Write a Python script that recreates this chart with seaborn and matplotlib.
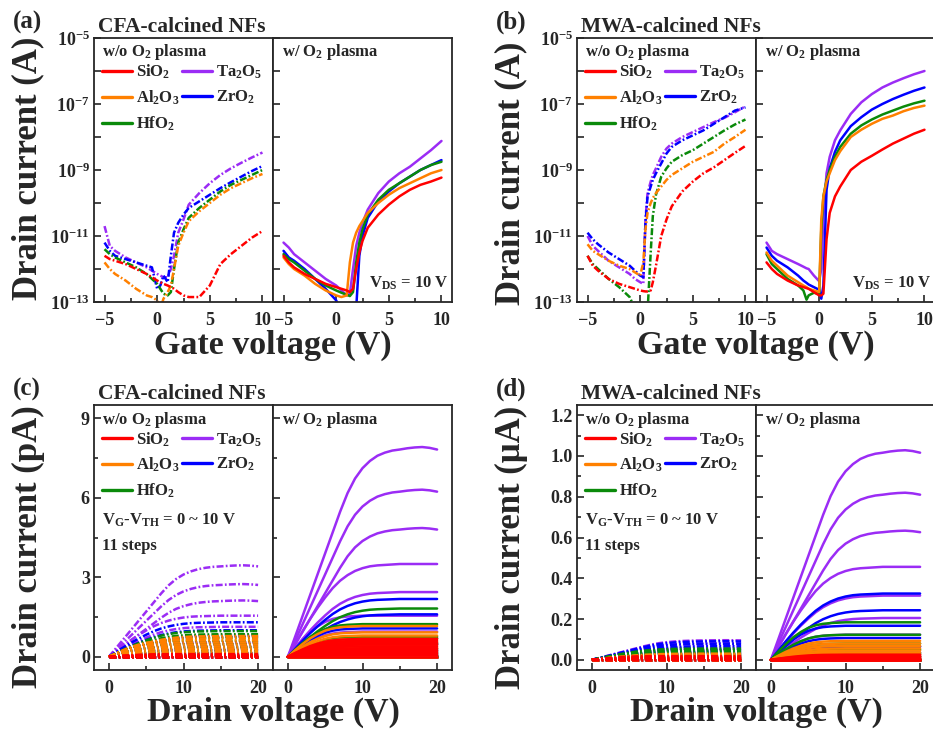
import numpy as np
import pandas as pd
import matplotlib
matplotlib.use('Agg')
import matplotlib.pyplot as plt
import seaborn as sns
from matplotlib.lines import Line2D
from matplotlib.ticker import (FixedLocator, FuncFormatter, MultipleLocator, FormatStrFormatter,
                               NullFormatter)

# materiali, legenda i boje
MATERIALS = ['SiO2', 'Al2O3', 'HfO2', 'Ta2O5', 'ZrO2']
LABELS = ['SiO$_2$', 'Al$_2$O$_3$', 'HfO$_2$', 'Ta$_2$O$_5$', 'ZrO$_2$']
COLORS = ['#ff0000', '#ff8000', '#0a8a0a', '#9b2cf5', '#0000ff']
DRAW_ORDER = ['Ta2O5', 'ZrO2', 'HfO2', 'Al2O3', 'SiO2']

# ---- prijenosne karakteristike, log10(Id / A) ----
# (a) CFA, bez O2 plazme
a_wo_vg = [-5, -4.5, -4, -3, -2, -1, -0.5, 0, 0.3, 0.6, 1, 1.3, 1.6, 2, 2.5, 3, 4, 5, 6, 7, 8, 9, 10]
a_wo_si = [-11.6, -11.7, -11.75, -11.85, -12.0, -12.15, -12.25, -12.35, -12.4, -12.45, -12.5, -12.55,
           -12.6, -12.7, -12.8, -12.85, -12.85, -12.5, -11.85, -11.55, -11.3, -11.05, -10.85]
a_wo_al = [-11.8, -12.0, -12.15, -12.35, -12.6, -12.8, -12.85, -12.95, -13.2, -12.9, -12.7, -12.5,
           -12.0, -11.3, -10.9, -10.55, -10.25, -10.0, -9.75, -9.55, -9.4, -9.25, -9.12]
a_wo_hf = [-11.4, -11.55, -11.65, -11.8, -11.95, -12.15, -12.3, -12.45, -12.6, -12.75, -12.8, -12.7,
           -12.0, -11.2, -10.8, -10.45, -10.15, -9.9, -9.65, -9.45, -9.3, -9.15, -9.0]
a_wo_ta = [-10.7, -11.3, -11.45, -11.65, -11.8, -11.95, -12.05, -12.15, -12.2, -12.25, -12.25, -12.0,
           -11.6, -10.9, -10.5, -10.05, -9.7, -9.4, -9.15, -8.95, -8.78, -8.62, -8.47]
a_wo_zr = [-11.2, -11.45, -11.6, -11.7, -11.8, -11.9, -11.95, -12.6, -12.5, -12.2, -12.4, -11.6,
           -10.9, -10.6, -10.35, -10.15, -9.95, -9.75, -9.55, -9.37, -9.2, -9.03, -8.88]

# (a) CFA, s O2 plazmom
a_w_vg = [-5, -4.5, -4, -3, -2, -1, 0, 0.5, 1, 1.3, 1.6, 1.9, 2.2, 2.5, 3, 4, 5, 6, 7, 8, 9, 10]
a_w_si = [-11.6, -11.8, -11.95, -12.15, -12.3, -12.45, -12.55, -12.6, -12.65, -12.7, -12.6, -12.0,
          -11.5, -11.15, -10.75, -10.35, -10.05, -9.8, -9.6, -9.45, -9.35, -9.23]
a_w_al = [-11.65, -11.85, -12.0, -12.2, -12.45, -12.65, -12.8, -12.85, -12.8, -11.8, -11.2, -10.9,
          -10.7, -10.55, -10.3, -10.0, -9.75, -9.55, -9.4, -9.25, -9.1, -9.0]
a_w_hf = [-11.55, -11.7, -11.8, -12.05, -12.3, -12.5, -12.65, -12.72, -12.78, -12.82, -12.7, -11.8,
          -11.2, -10.8, -10.35, -9.9, -9.6, -9.4, -9.2, -9.0, -8.85, -8.75]
a_w_ta = [-11.2, -11.35, -11.55, -11.8, -12.05, -12.3, -12.5, -12.65, -12.8, -12.75, -12.0, -11.3,
          -10.9, -10.6, -10.2, -9.7, -9.35, -9.1, -8.9, -8.65, -8.4, -8.12]
a_w_zr = [-11.45, -11.65, -11.75, -12.0, -12.3, -12.6, -12.95, -13.3, -13.5, -13.5, -13.5, -13.2,
          -11.6, -11.0, -10.45, -9.95, -9.65, -9.4, -9.2, -9.0, -8.85, -8.7]

# (b) MWA, bez O2 plazme
b_wo_vg = [-5, -4.5, -4, -3, -2, -1, -0.5, 0, 0.3, 0.5, 0.7, 1, 1.2, 1.5, 2, 2.5, 3, 4, 5, 6, 7, 8, 9, 10]
b_wo_si = [-11.6, -11.9, -12.05, -12.3, -12.45, -12.55, -12.6, -12.65, -12.67, -12.68, -12.68, -12.65,
           -12.4, -11.9, -11.0, -10.5, -10.1, -9.65, -9.35, -9.1, -8.92, -8.7, -8.48, -8.27]
b_wo_al = [-11.25, -11.45, -11.55, -11.75, -11.9, -12.0, -12.1, -12.2, -11.8, -10.8, -10.3, -10.0,
           -9.85, -9.7, -9.5, -9.3, -9.15, -8.95, -8.75, -8.6, -8.45, -8.2, -8.0, -7.78]
b_wo_hf = [-11.6, -11.85, -12.0, -12.3, -12.55, -12.85, -13.2, -13.5, -13.5, -13.5, -13.3, -11.5,
           -10.4, -9.75, -9.2, -8.95, -8.75, -8.55, -8.4, -8.2, -8.0, -7.8, -7.62, -7.47]
b_wo_ta = [-11.0, -11.3, -11.45, -11.75, -11.95, -12.15, -12.3, -12.4, -12.45, -10.5, -9.7, -9.35,
           -9.15, -8.95, -8.6, -8.35, -8.2, -8.0, -7.85, -7.7, -7.55, -7.42, -7.25, -7.07]
b_wo_zr = [-10.9, -11.1, -11.25, -11.5, -11.7, -11.9, -12.05, -12.2, -12.25, -10.6, -9.8, -9.5,
           -9.3, -9.1, -8.8, -8.5, -8.3, -8.1, -7.95, -7.8, -7.6, -7.4, -7.2, -7.1]

# (b) MWA, s O2 plazmom
b_w_vg = [-5, -4.5, -4, -3, -2, -1.5, -1.2, -1, -0.5, 0, 0.2, 0.4, 0.7, 1, 1.5, 2, 3, 4, 5, 6, 7, 8, 9, 10]
b_w_si = [-11.8, -12.0, -12.15, -12.35, -12.5, -12.55, -12.58, -12.6, -12.7, -12.8, -12.8, -12.75,
          -11.1, -10.3, -9.8, -9.5, -9.0, -8.75, -8.57, -8.38, -8.2, -8.05, -7.9, -7.78]
b_w_al = [-11.5, -11.75, -11.9, -12.2, -12.4, -12.5, -12.55, -12.6, -12.65, -12.7, -10.5, -9.8,
          -9.35, -9.1, -8.7, -8.43, -8.0, -7.78, -7.6, -7.45, -7.35, -7.22, -7.12, -7.05]
b_w_hf = [-11.55, -11.85, -12.0, -12.3, -12.5, -12.65, -12.93, -12.8, -12.72, -12.75, -10.8, -9.8,
          -9.3, -9.0, -8.6, -8.3, -7.9, -7.65, -7.47, -7.32, -7.2, -7.08, -6.98, -6.9]
b_w_ta = [-11.2, -11.45, -11.55, -11.7, -11.85, -11.93, -11.98, -12.0, -12.2, -12.37, -12.0, -10.4,
          -9.1, -8.6, -8.1, -7.8, -7.3, -6.95, -6.7, -6.5, -6.35, -6.22, -6.1, -6.0]
b_w_zr = [-11.35, -11.6, -11.75, -11.95, -12.2, -12.35, -12.42, -12.47, -12.55, -12.63, -12.9, -12.5,
          -9.6, -8.95, -8.45, -8.1, -7.67, -7.4, -7.17, -7.0, -6.85, -6.72, -6.6, -6.5]

# ---- izlazne karakteristike ----
vd = list(range(21))
# oblik krivulje (Id / Id_sat) ocitan sa slike
shape_hi = [0, .10, .20, .30, .40, .50, .60, .70, .79, .86, .91, .945, .97, .985, .995, 1.0,
            1.006, 1.01, 1.012, 1.008, 1.0]
shape_mid = [0, .14, .28, .41, .53, .64, .74, .82, .88, .925, .955, .975, .985, .99, .995, 1.0,
             1.0, 1.0, 1.0, 1.0, 1.0]
shape_lo = [0, .22, .42, .60, .74, .85, .92, .96, .98, .99, 1.0, 1.0, 1.0, 1.0, 1.0, 1.0,
            1.0, 1.0, 1.0, 1.0, 1.0]

# struja zasicenja po koraku VG-VTH (10 V ... 0 V)
# (c) CFA, pA
c_wo_si = [0.10, 0.08, 0.06, 0.05, 0.04, 0.03, 0.02, 0.01, 0.005, 0.0, 0.0]
c_wo_al = [0.78, 0.70, 0.62, 0.54, 0.46, 0.38, 0.30, 0.22, 0.14, 0.07, 0.02]
c_wo_hf = [0.97, 0.85, 0.72, 0.60, 0.47, 0.35, 0.24, 0.14, 0.06, 0.02, 0.0]
c_wo_ta = [3.41, 2.71, 2.10, 1.55, 1.13, 0.80, 0.50, 0.28, 0.12, 0.03, 0.0]
c_wo_zr = [1.30, 1.00, 0.75, 0.55, 0.38, 0.24, 0.13, 0.06, 0.02, 0.005, 0.0]

c_w_si = [0.67, 0.60, 0.53, 0.46, 0.39, 0.32, 0.25, 0.18, 0.11, 0.05, 0.0]
c_w_al = [1.16, 0.92, 0.80, 0.68, 0.56, 0.45, 0.34, 0.24, 0.14, 0.06, 0.0]
c_w_hf = [1.82, 1.23, 0.75, 0.50, 0.30, 0.17, 0.08, 0.03, 0.01, 0.0, 0.0]
c_w_ta = [7.82, 6.23, 4.80, 3.50, 2.44, 1.55, 0.95, 0.50, 0.20, 0.05, 0.0]
c_w_zr = [2.18, 1.60, 1.07, 0.70, 0.45, 0.25, 0.12, 0.05, 0.02, 0.005, 0.0]

# (d) MWA, uA
d_wo_si = [0.018, 0.015, 0.012, 0.010, 0.008, 0.006, 0.004, 0.003, 0.002, 0.001, 0.0]
d_wo_al = [0.030, 0.026, 0.022, 0.018, 0.014, 0.011, 0.008, 0.005, 0.003, 0.001, 0.0]
d_wo_hf = [0.055, 0.048, 0.040, 0.033, 0.026, 0.020, 0.014, 0.009, 0.005, 0.002, 0.0]
d_wo_ta = [0.095, 0.080, 0.065, 0.050, 0.038, 0.027, 0.018, 0.010, 0.005, 0.002, 0.0]
d_wo_zr = [0.090, 0.078, 0.066, 0.055, 0.044, 0.034, 0.025, 0.016, 0.009, 0.004, 0.0]

d_w_si = [0.025, 0.020, 0.016, 0.012, 0.009, 0.006, 0.004, 0.002, 0.001, 0.0, 0.0]
d_w_al = [0.093, 0.080, 0.068, 0.056, 0.045, 0.035, 0.025, 0.016, 0.008, 0.003, 0.0]
d_w_hf = [0.184, 0.123, 0.080, 0.050, 0.030, 0.015, 0.005, 0.0, 0.0, 0.0, 0.0]
d_w_ta = [1.016, 0.810, 0.626, 0.456, 0.315, 0.205, 0.123, 0.065, 0.025, 0.005, 0.0]
d_w_zr = [0.325, 0.243, 0.167, 0.107, 0.065, 0.035, 0.015, 0.005, 0.0, 0.0, 0.0]

# ---- stil ----
sns.set_style('ticks')
plt.rcParams['font.family'] = ['Liberation Serif', 'DejaVu Serif']
plt.rcParams['font.weight'] = 'bold'
plt.rcParams['mathtext.fontset'] = 'custom'
plt.rcParams['mathtext.rm'] = 'Liberation Serif:bold'
plt.rcParams['mathtext.it'] = 'Liberation Serif:italic:bold'
plt.rcParams['mathtext.bf'] = 'Liberation Serif:bold'
plt.rcParams['mathtext.default'] = 'rm'

PALETTE = dict(zip(MATERIALS, COLORS))
DASHDOT = (0, (2.8, 0.9, 0.7, 0.9))
W_PX, H_PX = 933, 731

fig = plt.figure(figsize=(W_PX / 100, H_PX / 100), dpi=100)


def add_ax(left, top, width, height, sharey=None):
    return fig.add_axes([left / W_PX, 1 - (top + height) / H_PX, width / W_PX, height / H_PX],
                        sharey=sharey)


def style_ax(ax, labels_left):
    ax.tick_params(which='both', direction='in', top=False, right=False, width=1.2, labelsize=13)
    ax.tick_params(which='major', length=5)
    ax.tick_params(which='minor', length=3)
    ax.tick_params(axis='x', which='both', pad=7)
    ax.tick_params(axis='y', which='both', pad=3, labelleft=labels_left)
    for sp in ax.spines.values():
        sp.set_linewidth(1.3)
    ax.set_xlabel('')
    ax.set_ylabel('')


def transfer(ax, vg, curves, dashed):
    rows = []
    for mat in DRAW_ORDER:
        for v, li in zip(vg, curves[mat]):
            rows.append((mat, v, 10.0 ** li))
    df = pd.DataFrame(rows, columns=['material', 'Vg', 'Id'])
    ax.set_yscale('log')
    sns.lineplot(data=df, x='Vg', y='Id', hue='material', hue_order=DRAW_ORDER, palette=PALETTE,
                 estimator=None, legend=False, lw=1.8, linestyle=DASHDOT if dashed else '-', ax=ax)
    ax.set_xlim(-6, 11)
    ax.set_ylim(1e-13, 1e-5)
    ax.xaxis.set_major_locator(MultipleLocator(5))
    ax.xaxis.set_minor_locator(MultipleLocator(2.5))
    ax.yaxis.set_major_locator(FixedLocator([1e-13, 1e-11, 1e-9, 1e-7, 1e-5]))
    ax.yaxis.set_minor_locator(FixedLocator([1e-12, 1e-10, 1e-8, 1e-6]))
    ax.yaxis.set_major_formatter(FuncFormatter(lambda v, p: r'$10^{%d}$' % round(np.log10(v))))
    ax.yaxis.set_minor_formatter(NullFormatter())


def pick_shape(level, top):
    if level >= 0.6 * top:
        return shape_hi
    if level >= 0.2 * top:
        return shape_mid
    return shape_lo


def output(ax, levels, dashed, ylim, ymaj, ymin, fmt):
    top = max(max(v) for v in levels.values())
    rows = []
    for mat in DRAW_ORDER:
        for step, isat in enumerate(levels[mat]):
            shape = pick_shape(isat, top)
            for x, s in zip(vd, shape):
                rows.append((mat, step, x, isat * s))
    df = pd.DataFrame(rows, columns=['material', 'step', 'Vd', 'Id'])
    sns.lineplot(data=df, x='Vd', y='Id', hue='material', hue_order=DRAW_ORDER, palette=PALETTE,
                 units='step', estimator=None, legend=False, lw=1.8,
                 linestyle=DASHDOT if dashed else '-', ax=ax)
    ax.set_xlim(-2, 22)
    ax.set_ylim(*ylim)
    ax.xaxis.set_major_locator(MultipleLocator(10))
    ax.xaxis.set_minor_locator(MultipleLocator(5))
    ax.yaxis.set_major_locator(MultipleLocator(ymaj))
    ax.yaxis.set_minor_locator(MultipleLocator(ymin))
    ax.yaxis.set_major_formatter(FormatStrFormatter(fmt))
    ax.yaxis.set_minor_formatter(NullFormatter())


def add_legend(ax):
    handles = [Line2D([], [], color=c, lw=2.4) for c in COLORS]
    ax.legend(handles, LABELS, ncol=2, loc='upper left', bbox_to_anchor=(0.045, 0.905),
              frameon=False, fontsize=12, handlelength=1.8, handletextpad=0.25,
              columnspacing=0.15, labelspacing=0.45, borderpad=0, borderaxespad=0)


def frame_texts(ax_l, ax_r):
    ax_l.text(0.045, 0.93, 'w/o O$_2$ plasma', transform=ax_l.transAxes, fontsize=12, va='baseline')
    ax_r.text(0.05, 0.93, 'w/ O$_2$ plasma', transform=ax_r.transAxes, fontsize=12, va='baseline')


# raspored panela (px)
PANELS = [
    ('(a)', 'CFA-calcined NFs', 94, 38, 264),
    ('(b)', 'MWA-calcined NFs', 577, 38, 264),
    ('(c)', 'CFA-calcined NFs', 94, 405, 265),
    ('(d)', 'MWA-calcined NFs', 577, 405, 265),
]
AX_W = 179

axes = []
for letter, title, x0, top, h in PANELS:
    ax_l = add_ax(x0, top, AX_W, h)
    ax_r = add_ax(x0 + AX_W, top, AX_W, h, sharey=ax_l)
    axes.append((ax_l, ax_r))
    fig.text((x0 - 81) / W_PX, 1 - (top - 9) / H_PX, letter, fontsize=18, va='baseline')
    fig.text((x0 + 4) / W_PX, 1 - (top - 6) / H_PX, title, fontsize=15.5, va='baseline')

# (a)
ax_l, ax_r = axes[0]
transfer(ax_l, a_wo_vg, dict(SiO2=a_wo_si, Al2O3=a_wo_al, HfO2=a_wo_hf, Ta2O5=a_wo_ta, ZrO2=a_wo_zr), True)
transfer(ax_r, a_w_vg, dict(SiO2=a_w_si, Al2O3=a_w_al, HfO2=a_w_hf, Ta2O5=a_w_ta, ZrO2=a_w_zr), False)

# (b)
ax_l, ax_r = axes[1]
transfer(ax_l, b_wo_vg, dict(SiO2=b_wo_si, Al2O3=b_wo_al, HfO2=b_wo_hf, Ta2O5=b_wo_ta, ZrO2=b_wo_zr), True)
transfer(ax_r, b_w_vg, dict(SiO2=b_w_si, Al2O3=b_w_al, HfO2=b_w_hf, Ta2O5=b_w_ta, ZrO2=b_w_zr), False)

# (c)
ax_l, ax_r = axes[2]
output(ax_l, dict(SiO2=c_wo_si, Al2O3=c_wo_al, HfO2=c_wo_hf, Ta2O5=c_wo_ta, ZrO2=c_wo_zr), True,
       (-0.5, 9.5), 3, 1.5, '%d')
output(ax_r, dict(SiO2=c_w_si, Al2O3=c_w_al, HfO2=c_w_hf, Ta2O5=c_w_ta, ZrO2=c_w_zr), False,
       (-0.5, 9.5), 3, 1.5, '%d')

# (d)
ax_l, ax_r = axes[3]
output(ax_l, dict(SiO2=d_wo_si, Al2O3=d_wo_al, HfO2=d_wo_hf, Ta2O5=d_wo_ta, ZrO2=d_wo_zr), True,
       (-0.05, 1.25), 0.2, 0.1, '%.1f')
output(ax_r, dict(SiO2=d_w_si, Al2O3=d_w_al, HfO2=d_w_hf, Ta2O5=d_w_ta, ZrO2=d_w_zr), False,
       (-0.05, 1.25), 0.2, 0.1, '%.1f')

for i, (ax_l, ax_r) in enumerate(axes):
    style_ax(ax_l, True)
    style_ax(ax_r, False)
    if i < 2:
        ax_l.tick_params(axis='y', which='minor', length=5)
        ax_r.tick_params(axis='y', which='minor', length=5)
    add_legend(ax_l)
    frame_texts(ax_l, ax_r)
    if i < 2:
        ax_r.text(0.985, 0.053, 'V$_{DS}$ = 10 V', transform=ax_r.transAxes, fontsize=12,
                  ha='right', va='baseline')
    else:
        ax_l.text(0.045, 0.547, 'V$_G$-V$_{TH}$ = 0 ~ 10 V', transform=ax_l.transAxes, fontsize=12,
                  va='baseline')
        ax_l.text(0.045, 0.453, '11 steps', transform=ax_l.transAxes, fontsize=12, va='baseline')

# osi - natpisi
YLAB = ['Drain current (A)', 'Drain current (A)', 'Drain current (pA)', 'Drain current (\u03bcA)']
XLAB = ['Gate voltage (V)', 'Gate voltage (V)', 'Drain voltage (V)', 'Drain voltage (V)']
YLAB_POS = [(28, 168), (511, 173), (28, 547), (511, 547)]
XLAB_POS = [(273, 354), (756, 354), (273, 721), (756, 721)]
for lab, (x, y) in zip(YLAB, YLAB_POS):
    fig.text(x / W_PX, 1 - y / H_PX, lab, fontsize=25, rotation=90, ha='center', va='center')
for lab, (x, y) in zip(XLAB, XLAB_POS):
    fig.text(x / W_PX, 1 - y / H_PX, lab, fontsize=24.5, ha='center', va='baseline')

fig.savefig('out.png', dpi=100, facecolor='white')
